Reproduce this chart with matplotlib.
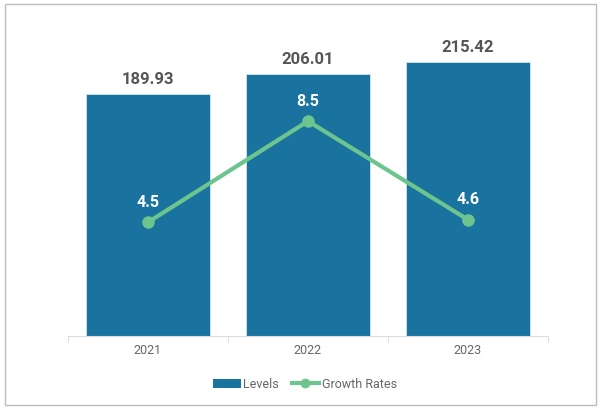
import matplotlib
matplotlib.use('Agg')
import matplotlib.pyplot as plt
from matplotlib.patches import Rectangle
from matplotlib.lines import Line2D
from matplotlib.patches import Patch

plt.rcParams['font.family'] = ['Roboto', 'DejaVu Sans']

years = ['2021', '2022', '2023']
levels = [189.93, 206.01, 215.42]
growth = [4.5, 8.5, 4.6]

bar_color = '#19739e'
line_color = '#6cc58f'

fig = plt.figure(figsize=(6, 4.09), dpi=100)
ax = fig.add_axes([68/600, 73/409, 480/600, 316/409])
ax2 = ax.twinx()

x = range(len(years))
bars = ax.bar(x, levels, width=0.77, color=bar_color, edgecolor='#d6e7f0', linewidth=0.6, zorder=2)
ax.set_xlim(-0.5, len(years) - 0.5)
ax.set_ylim(0, 248)
ax2.set_ylim(0, 12.5)

for xi, v in zip(x, levels):
    ax.annotate(f'{v:.2f}', (xi, v), xytext=(0, 5), textcoords='offset points',
                ha='center', va='bottom', fontsize=12, fontweight='bold', color='#555555')

ax2.plot(x, growth, color=line_color, linewidth=3, marker='o', markersize=8, zorder=3)
for xi, v in zip(x, growth):
    ax2.annotate(f'{v}', (xi, v), xytext=(0, 9), textcoords='offset points',
                 ha='center', va='bottom', fontsize=11.5, fontweight='bold', color='white')

for a in (ax, ax2):
    for s in ['top', 'right', 'left']:
        a.spines[s].set_visible(False)
    a.set_yticks([])
ax2.spines['bottom'].set_visible(False)
ax.spines['bottom'].set_color('#dddddd')
ax.set_xticks([-0.5, 0.5, 1.5, 2.5])
ax.set_xticklabels([])
ax.tick_params(axis='x', length=4, color='#dddddd')
ax.set_xticks(list(x), minor=True)
ax.set_xticklabels(years, minor=True)
ax.tick_params(axis='x', which='minor', length=0, pad=6, labelsize=9, labelcolor='#666666')

handles = [Patch(facecolor=bar_color, label='Levels'),
           Line2D([0], [0], color=line_color, lw=3, marker='o', markersize=6, label='Growth Rates')]
fig.legend(handles=handles, loc='center', bbox_to_anchor=(305/600, 1 - 384/409), ncol=2,
           frameon=False, fontsize=9, labelcolor='#666666', handlelength=2.2,
           handletextpad=0.2, columnspacing=1.0)

fig.patches.append(Rectangle((5/600, 4/409), 591/600, 401/409, transform=fig.transFigure,
                             fill=False, edgecolor='#bdbdbd', linewidth=1))

fig.savefig('out.png', dpi=100)
